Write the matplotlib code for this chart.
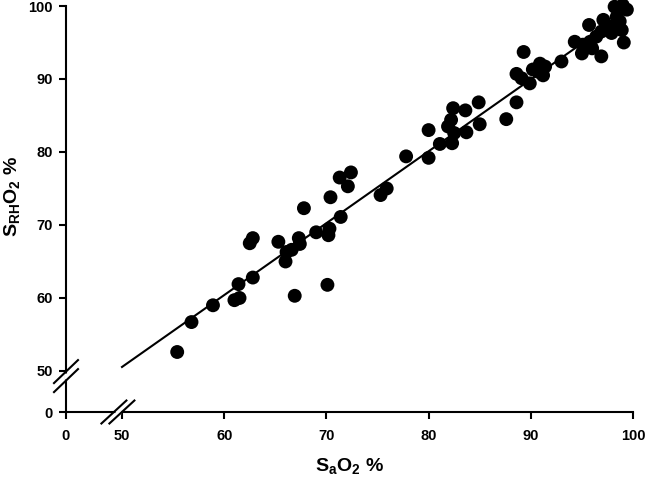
import matplotlib
matplotlib.use("Agg")
import matplotlib.pyplot as plt
import numpy as np

plt.rcParams['font.family'] = ['Liberation Sans', 'DejaVu Sans']
plt.rcParams['font.weight'] = 'bold'
plt.rcParams['mathtext.fontset'] = 'custom'
plt.rcParams['mathtext.rm'] = 'Liberation Sans:bold'
plt.rcParams['mathtext.bf'] = 'Liberation Sans:bold'
plt.rcParams['mathtext.it'] = 'Liberation Sans:bold'

# SaO2 (%) vs SRHO2 (%)
sao2 = [55.4, 56.8, 58.9, 61.0, 61.5, 61.4, 62.8, 62.5, 62.8, 65.3,
        66.1, 66.6, 66.0, 67.3, 67.4, 67.8, 69.0, 70.4, 70.3, 70.2,
        71.4, 71.3, 72.4, 72.1, 75.3, 75.9, 66.9, 70.1,
        77.8, 80.0, 80.0, 81.1, 82.3, 82.4, 82.2, 81.9, 82.5, 83.6,
        83.7, 84.9, 85.0, 87.6, 88.6,
        89.3, 88.6, 89.1, 89.9, 90.2, 90.9, 91.2, 90.7, 91.4, 93.0,
        94.3, 95.0, 95.1, 95.7, 95.8, 96.0, 96.4, 96.9, 96.9, 97.1,
        97.7, 98.2, 98.4, 98.9, 99.1, 99.0, 99.4, 98.7, 97.9]
srho2 = [52.6, 56.7, 59.0, 59.7, 60.0, 61.9, 62.8, 67.5, 68.2, 67.7,
         66.3, 66.6, 65.0, 68.2, 67.4, 72.3, 69.0, 73.8, 69.5, 68.6,
         71.1, 76.5, 77.2, 75.3, 74.1, 75.0, 60.3, 61.8,
         79.4, 79.2, 83.0, 81.1, 81.2, 86.0, 84.4, 83.5, 82.6, 85.7,
         82.7, 86.8, 83.8, 84.5, 86.8,
         93.7, 90.7, 90.1, 89.4, 91.3, 92.1, 90.5, 91.0, 91.7, 92.4,
         95.1, 93.5, 94.7, 97.4, 95.1, 94.2, 95.8, 93.1, 96.5, 98.1,
         97.2, 99.9, 98.5, 96.7, 95.0, 100.1, 99.5, 97.9, 96.3]

# regression line end points
fit_x = [50.0, 99.9]
fit_y = [50.55, 99.7]

x_zero = 44.52   # axis position representing 0 (broken axis)
y_zero = 44.38
x_ticks = [x_zero, 50, 60, 70, 80, 90, 100]
x_labels = ['0', '50', '60', '70', '80', '90', '100']
y_ticks = [y_zero, 50, 60, 70, 80, 90, 100]
y_labels = ['0', '50', '60', '70', '80', '90', '100']

fig = plt.figure(figsize=(6.46, 4.87), dpi=100)
ax = fig.add_axes([66/646, 1-412/487, (633-66)/646, (412-6)/487])

ax.plot(fit_x, fit_y, color='black', lw=1.5, zorder=2)
ax.scatter(sao2, srho2, s=100, color='black', edgecolors='none', zorder=3, clip_on=False)

ax.set_xlim(x_zero, 100)
ax.set_ylim(y_zero, 100)
ax.set_xticks(x_ticks)
ax.set_xticklabels(x_labels)
ax.set_yticks(y_ticks)
ax.set_yticklabels(y_labels)

for s in ['top', 'right']:
    ax.spines[s].set_visible(False)
for s in ['left', 'bottom']:
    ax.spines[s].set_linewidth(1.5)
ax.tick_params(axis='both', direction='out', length=5, width=1.5, labelsize=10.5)
ax.tick_params(axis='x', pad=7.5)
ax.tick_params(axis='y', pad=4.5)
for lab in ax.get_xticklabels() + ax.get_yticklabels():
    lab.set_fontweight('bold')

ax.set_xlabel(r'$\mathbf{S_{a}O_{2}}$ %', fontsize=14, fontweight='bold')
ax.set_ylabel(r'$\mathbf{S_{RH}O_{2}}$ %', fontsize=14, fontweight='bold')
ax.xaxis.set_label_coords(0.5, -0.108)
ax.yaxis.set_label_coords(-0.078, 0.53)

# axis break marks (in pixel units converted to data units)
px_x = 10.22
px_y = 7.3
def slash(xc, yc, w, h):
    return [xc - w/2/px_x, xc + w/2/px_x], [yc - h/2/px_y, yc + h/2/px_y]

# x-axis break
bx = 49.6
for off in (-4, 4):
    xs, ys = slash(bx + off/px_x, y_zero, 25, 23)
    ax.plot(xs, ys, color='black', lw=1.5, clip_on=False, zorder=5)
gx = [bx - 3/px_x, bx + 3/px_x]
ax.plot(gx, [y_zero, y_zero], color='white', lw=2.5, clip_on=False, zorder=4,
        solid_capstyle='butt')

# y-axis break
by = 49.3
for off in (-4.5, 4.5):
    xs, ys = slash(x_zero, by + off/px_y, 24, 23)
    ax.plot(xs, ys, color='black', lw=1.5, clip_on=False, zorder=5)
ax.plot([x_zero, x_zero], [by - 3/px_y, by + 3/px_y], color='white', lw=2.5,
        clip_on=False, zorder=4, solid_capstyle='butt')

fig.savefig('out.png', dpi=100)
